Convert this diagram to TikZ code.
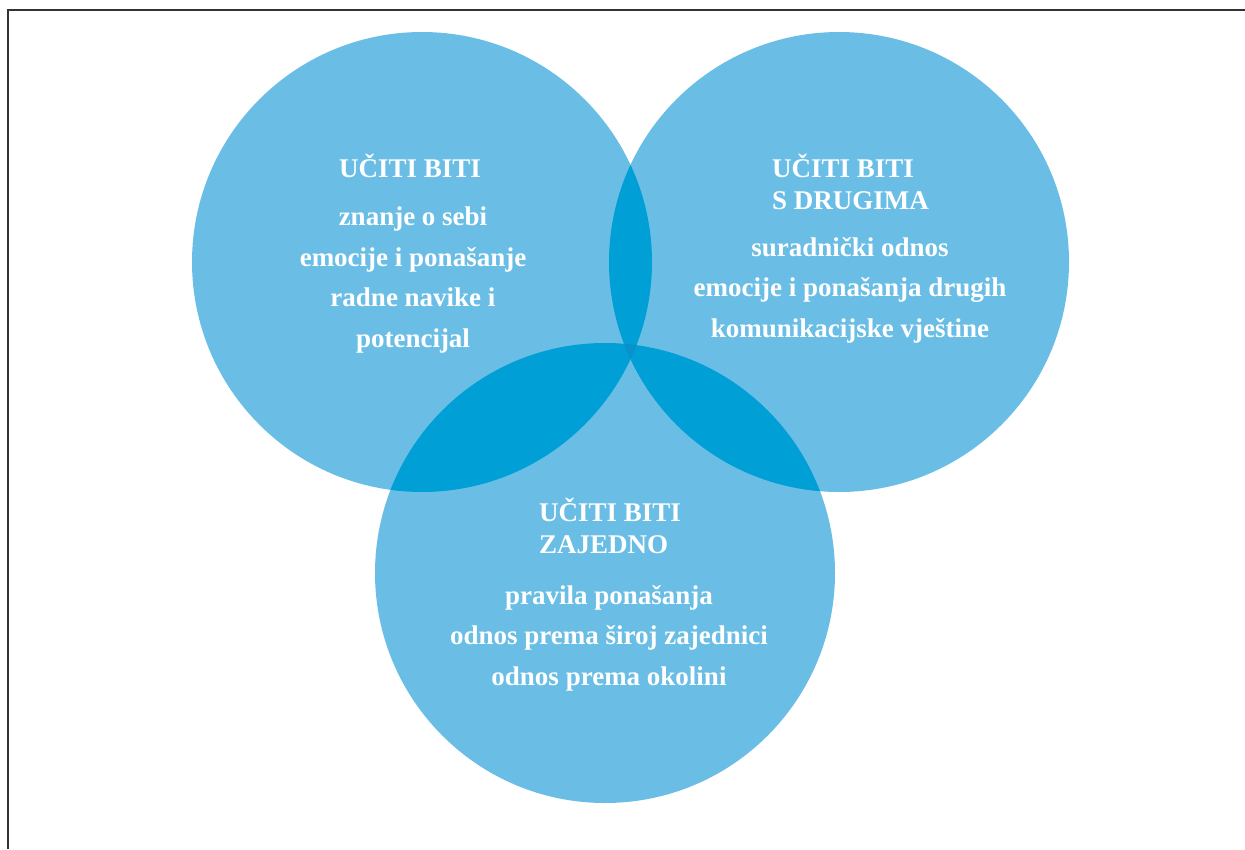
\documentclass[tikz,border=0pt]{standalone}
\usepackage{fontspec}
\setmainfont{Liberation Serif}
\usetikzlibrary{positioning}

\definecolor{ringblue}{HTML}{6ABEE5}
\definecolor{pairblue}{HTML}{009FD6}
\definecolor{coreblue}{HTML}{0A90CC}

\tikzset{
  ring/.style={fill=ringblue},
  pair/.style={fill=pairblue},
  core/.style={fill=coreblue},
  headtext/.style={text=white, inner sep=0pt, font=\fontsize{27}{32.5}\selectfont\bfseries},
  bodytext/.style={text=white, inner sep=0pt, align=center, font=\fontsize{27}{40.5}\selectfont\bfseries},
  frame/.style={draw=black!80, line width=2pt}
}

\begin{document}
\begin{tikzpicture}[x=1pt, y=-1pt]
  \useasboundingbox (0,0) rectangle (1245,849);

  % Circle centres (radius 230)
  \coordinate (self) at (422,262);
  \coordinate (others) at (839,262);
  \coordinate (together) at (605,573);

  % Frame
  \draw[frame] (7.5,849) -- (7.5,9.5) -- (1245,9.5);

  % Circles
  \fill[ring] (self) circle (230pt);
  \fill[ring] (others) circle (230pt);
  \fill[ring] (together) circle (230pt);

  % Pairwise overlaps
  \begin{scope}
    \clip (self) circle (230pt);
    \fill[pair] (others) circle (230pt);
    \fill[pair] (together) circle (230pt);
  \end{scope}
  \begin{scope}
    \clip (others) circle (230pt);
    \fill[pair] (together) circle (230pt);
  \end{scope}

  % Overlap of all three
  \begin{scope}
    \clip (self) circle (230pt);
    \clip (others) circle (230pt);
    \fill[core] (together) circle (230pt);
  \end{scope}

  % Texts
  \node[headtext] (selfhead) at (410,166) {UČITI BITI};
  \node[bodytext] (selfbody) at (413,280) {znanje o sebi\\emocije i ponašanje\\radne navike i\\potencijal};

  \node[headtext, align=left, anchor=west] (othershead) at (772,182) {UČITI BITI\\S DRUGIMA};
  \node[bodytext] (othersbody) at (850,290) {suradnički odnos\\emocije i ponašanja drugih\\komunikacijske vještine};

  \node[headtext, align=left, anchor=west] (togetherhead) at (539,526) {UČITI BITI\\ZAJEDNO};
  \node[bodytext] (togetherbody) at (609,638) {pravila ponašanja\\odnos prema široj zajednici\\odnos prema okolini};
\end{tikzpicture}
\end{document}
